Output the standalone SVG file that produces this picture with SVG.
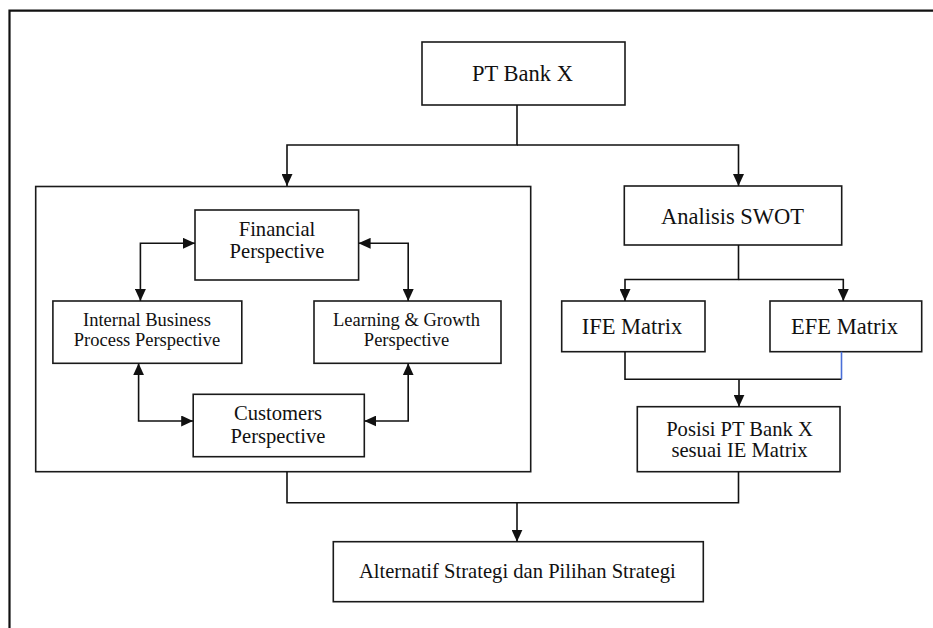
<svg xmlns="http://www.w3.org/2000/svg" width="933" height="628" viewBox="0 0 933 628">
<style>
  .box{fill:#fff;stroke:#1a1a1a;stroke-width:1.6}
  .outline{fill:none;stroke:#1a1a1a;stroke-width:1.6}
  .frame{fill:none;stroke:#111;stroke-width:2.2}
  .ln{fill:none;stroke:#111;stroke-width:1.6}
  .blue{fill:none;stroke:#4a6fd8;stroke-width:1.6}
  text{font-family:"Liberation Serif","Times New Roman",serif;fill:#111;text-anchor:middle}
  .t22{font-size:22.5px}
  .t20{font-size:20.6px}
  .t18{font-size:18.5px}
</style>
<defs>
  <marker id="ah" markerUnits="userSpaceOnUse" markerWidth="12" markerHeight="11" refX="12" refY="5.5" orient="auto-start-reverse">
    <path d="M0,0 L12,5.5 L0,11 Z" fill="#111"/>
  </marker>
</defs>
<rect width="933" height="628" fill="#fff"/>
<path class="frame" d="M9.5,640 V10.7 H945"/>

<g id="bsc-group">
  <rect class="outline" x="35.7" y="186.5" width="495" height="285.2"/>
</g>

<g id="pt-bank-x">
  <rect class="box" x="422" y="42" width="203" height="63"/>
  <text class="t22" x="522.5" y="80.7">PT Bank X</text>
</g>

<g id="financial">
  <rect class="box" x="195" y="210" width="163.6" height="70"/>
  <text class="t20" x="277" y="235.7">Financial</text>
  <text class="t20" x="277" y="258.3">Perspective</text>
</g>

<g id="internal">
  <rect class="box" x="52.9" y="301" width="188.9" height="62.3"/>
  <text class="t18" x="147" y="325.7">Internal Business</text>
  <text class="t18" x="147" y="345.7">Process Perspective</text>
</g>

<g id="learning">
  <rect class="box" x="314" y="301" width="187" height="62.3"/>
  <text class="t18" x="406.5" y="325.7">Learning &amp; Growth</text>
  <text class="t18" x="406.5" y="345.7">Perspective</text>
</g>

<g id="customers">
  <rect class="box" x="193.2" y="394.3" width="171.1" height="62.4"/>
  <text class="t20" x="278" y="420">Customers</text>
  <text class="t20" x="278" y="443.3">Perspective</text>
</g>

<g id="swot">
  <rect class="box" x="624.3" y="186" width="217.4" height="59"/>
  <text class="t22" x="732.5" y="224">Analisis SWOT</text>
</g>

<g id="ife">
  <rect class="box" x="561.7" y="301" width="143.3" height="50.7"/>
  <text class="t22" x="632" y="334">IFE Matrix</text>
</g>

<g id="efe">
  <rect class="box" x="770" y="301" width="151.7" height="50.7"/>
  <text class="t22" x="844.5" y="334">EFE Matrix</text>
</g>

<g id="posisi">
  <rect class="box" x="637.3" y="406.7" width="202.7" height="65"/>
  <text class="t20" x="739.5" y="435.7">Posisi PT Bank X</text>
  <text class="t20" x="739.5" y="456.7">sesuai IE Matrix</text>
</g>

<g id="alternatif">
  <rect class="box" x="333.3" y="541.7" width="370" height="60"/>
  <text class="t20" x="517.3" y="578.3">Alternatif Strategi dan Pilihan Strategi</text>
</g>

<g id="connectors">
  <path class="ln" d="M517,105 V145 H287 V186" marker-end="url(#ah)"/>
  <path class="ln" d="M517,145 H738.5 V186" marker-end="url(#ah)"/>
  <path class="ln" d="M738.5,245 V279.5 H625 V301" marker-end="url(#ah)"/>
  <path class="ln" d="M738.5,279.5 H843.3 V301" marker-end="url(#ah)"/>
  <path class="ln" d="M625,351.7 V379.3 H841.5"/>
  <path class="blue" d="M841.5,351.7 V379.3"/>
  <path class="ln" d="M739,379.3 V406.7" marker-end="url(#ah)"/>
  <path class="ln" d="M287,471.7 V502.7 H738.5 V471.7"/>
  <path class="ln" d="M517,502.7 V541.7" marker-end="url(#ah)"/>
  <path class="ln" d="M195,243.3 H140.4 V301" marker-start="url(#ah)" marker-end="url(#ah)"/>
  <path class="ln" d="M358.6,243.3 H408.2 V301" marker-start="url(#ah)" marker-end="url(#ah)"/>
  <path class="ln" d="M138.6,363.3 V421 H193.2" marker-start="url(#ah)" marker-end="url(#ah)"/>
  <path class="ln" d="M408.2,363.3 V421 H364.3" marker-start="url(#ah)" marker-end="url(#ah)"/>
</g>
</svg>
